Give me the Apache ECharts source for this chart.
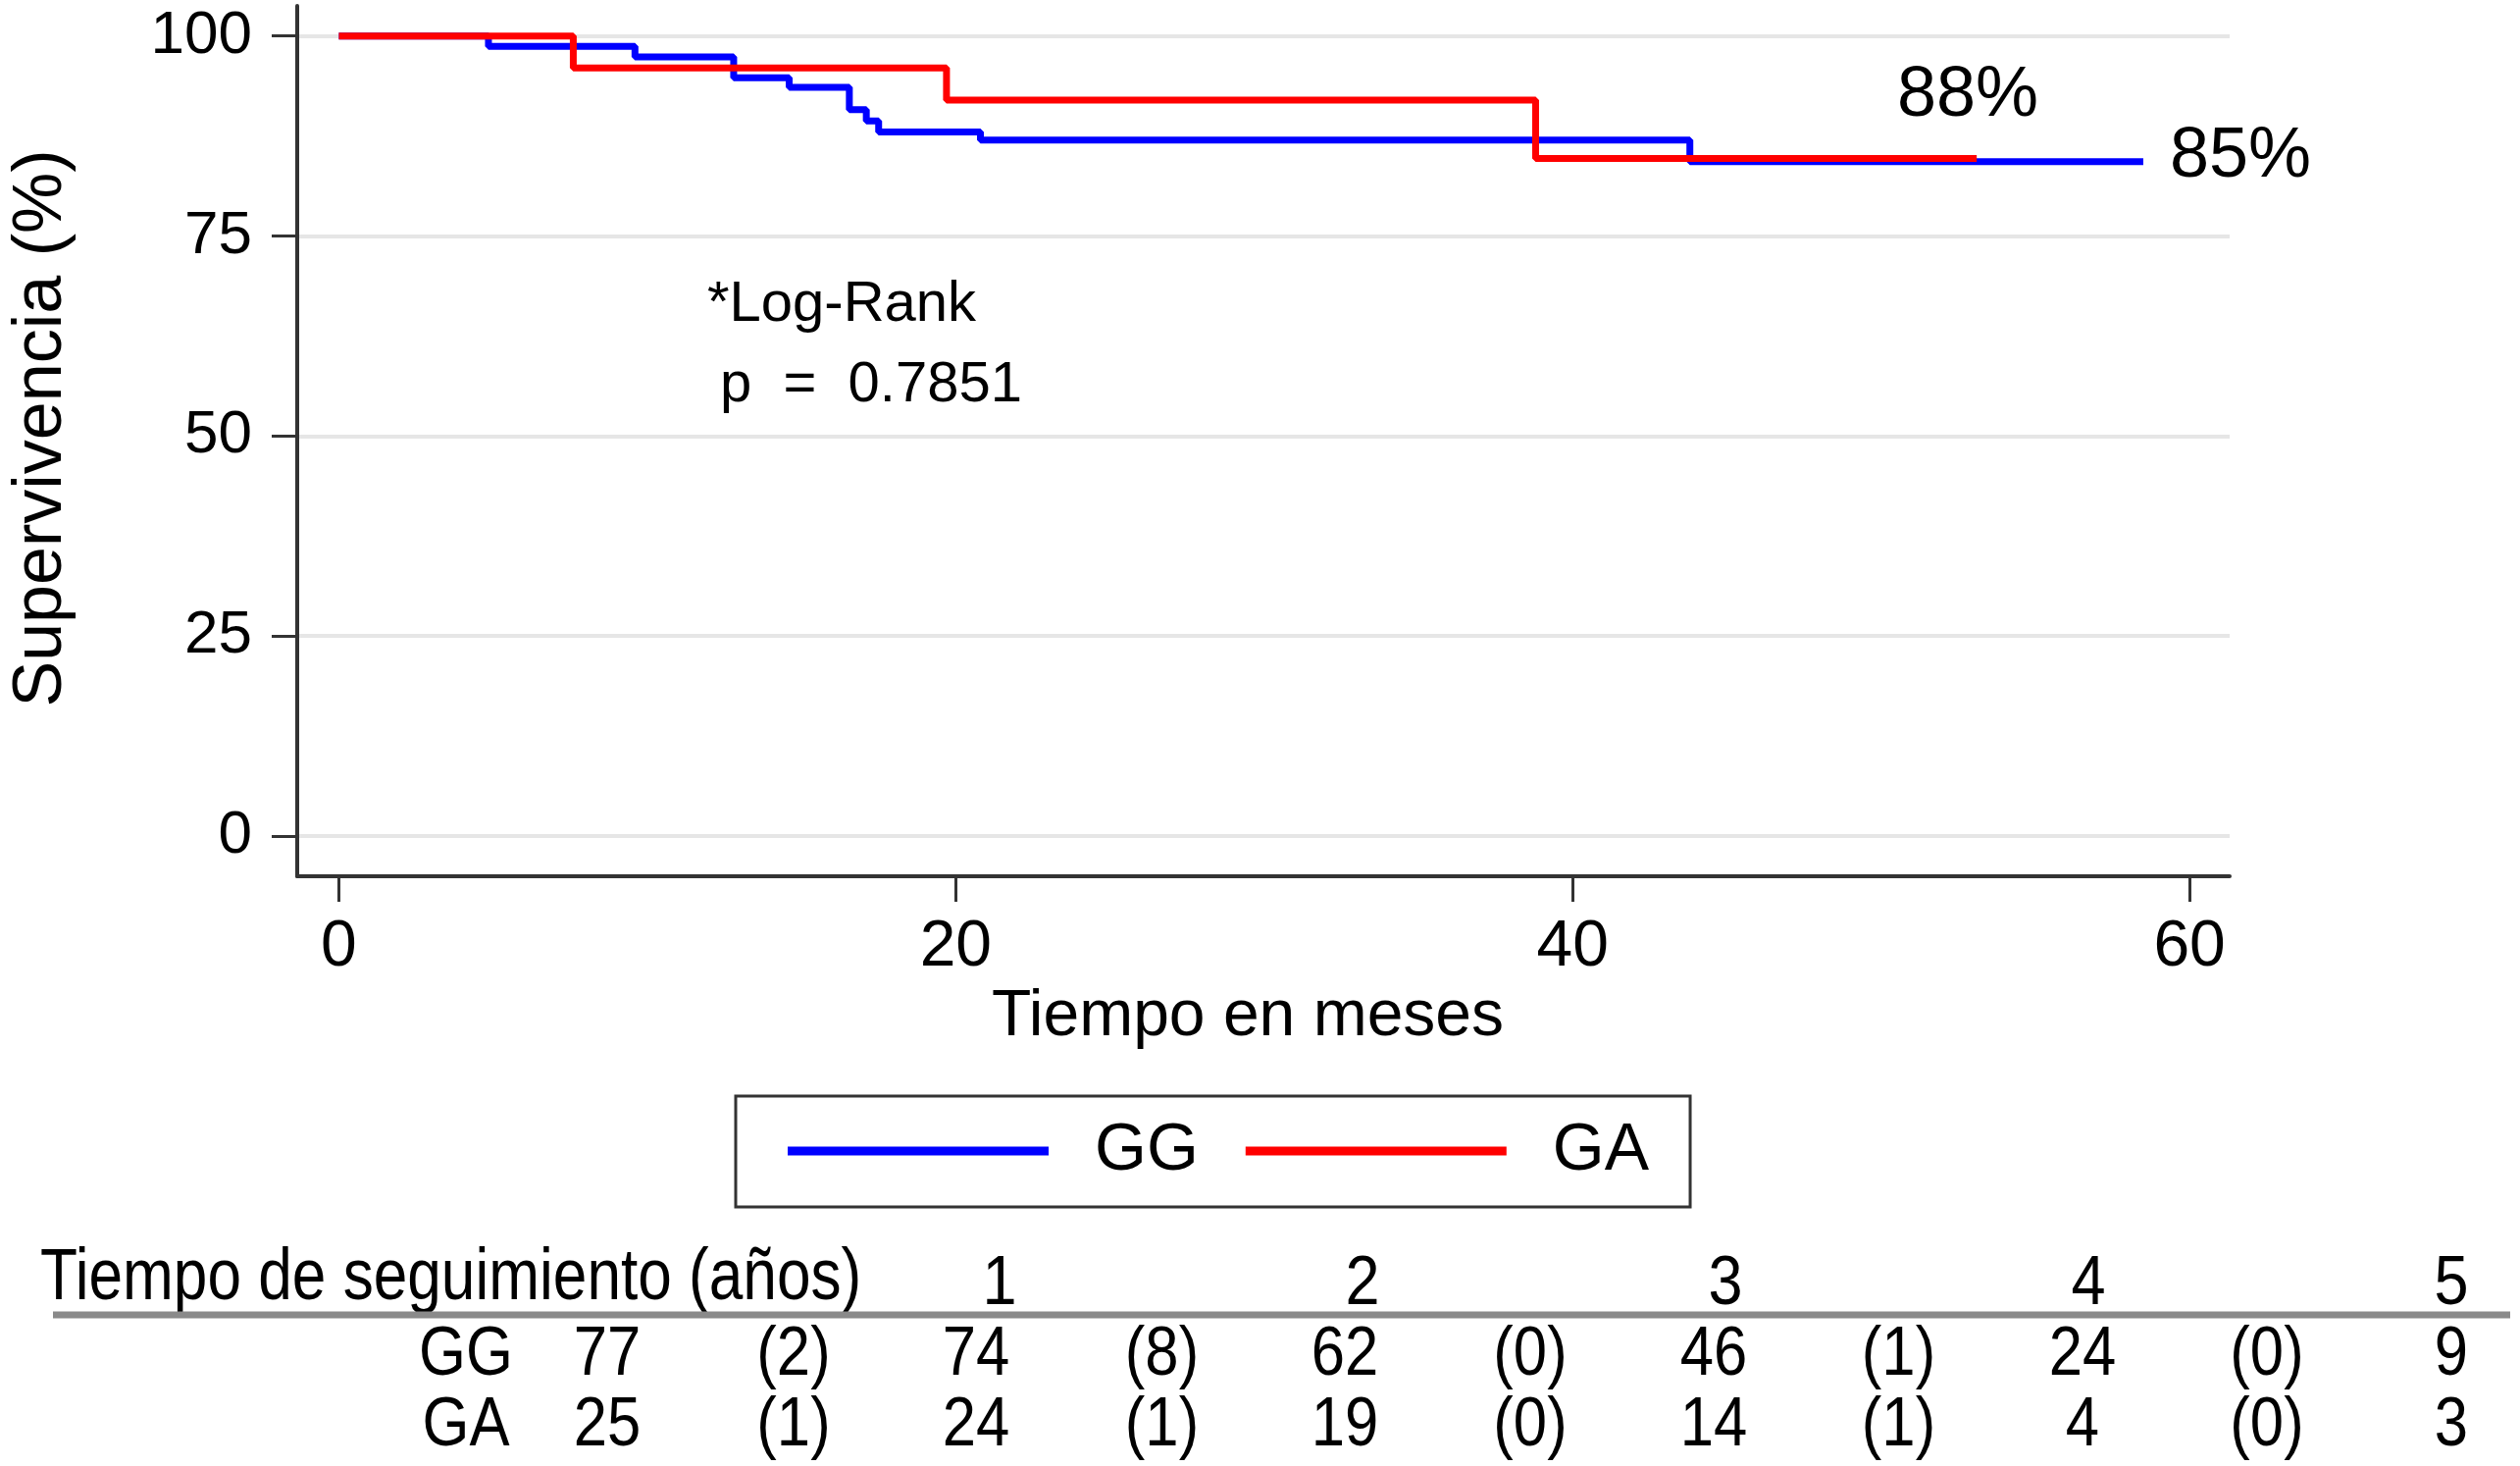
<!DOCTYPE html>
<html><head><meta charset="utf-8">
<script src="https://cdn.jsdelivr.net/npm/echarts@6/dist/echarts.min.js"></script>
<style>html,body{margin:0;padding:0;background:#fff}#c{width:2569px;height:1494px}</style>
</head><body><div id="c"></div>
<script>
// ---- data ----
const ggTime = [0, 4.85, 9.6, 12.8, 14.6, 16.55, 17.1, 17.5, 20.8, 43.8, 58.5];
const ggSurv = [100, 98.7, 97.4, 94.8, 93.6, 90.8, 89.4, 88.0, 87.0, 84.3, 84.3];
const gaTime = [0, 7.6, 19.7, 38.8, 53.1];
const gaSurv = [100, 96.0, 92.0, 84.7, 84.7];
const xTicks = [0, 20, 40, 60];
const yTicks = [0, 25, 50, 75, 100];
const groups = ['GG', 'GA'];
const years = ['1', '2', '3', '4', '5'];
const ggAtRisk = [77, 74, 62, 46, 24, 9];
const ggEvents = [2, 8, 0, 1, 0];
const gaAtRisk = [25, 24, 19, 14, 4, 3];
const gaEvents = [1, 1, 0, 1, 0];
const endLabels = ['88%', '85%'];
const tableTitle = 'Tiempo de seguimiento (años)';
const testLines = ['*Log-Rank', 'p  =  0.7851'];

const REG = "'Liberation Sans', Arial, sans-serif";

const chart = echarts.init(document.getElementById('c'));
const toPts = (t, s) => t.map((v, i) => [v, s[i]]);

const g = [];
function txt(x, y, text, size, align, sx) {
  g.push({type: 'text', x: x, y: y, scaleX: sx || 1, silent: true,
    style: {text: text, fontSize: size, fontFamily: REG, fill: '#000',
      align: align || 'center', verticalAlign: 'middle'}});
}
// in-plot annotations
txt(721, 311, testLines[0], 58, 'left');
txt(734, 393, testLines[1], 58, 'left');
txt(2006, 98, endLabels[0], 72, 'center');
txt(2212, 160, endLabels[1], 72, 'left');
// number-at-risk table
txt(41, 1304, tableTitle, 74, 'left', 0.84);
years.forEach((y, k) => txt(1019 + k * 370, 1310, y, 70, 'center', 0.9));
g.push({type: 'line', silent: true, shape: {x1: 54, y1: 1340, x2: 2559, y2: 1340},
  style: {stroke: '#8a8a8a', lineWidth: 7}});
const rows = [[groups[0], ggAtRisk, ggEvents, 1382], [groups[1], gaAtRisk, gaEvents, 1454]];
rows.forEach(r => {
  txt(475, r[3], r[0], 70, 'center', 0.88);
  r[1].forEach((v, k) => txt(619 + k * 376, r[3], String(v), 70, 'center', 0.88));
  r[2].forEach((v, k) => txt(809 + k * 375.5, r[3], '(' + v + ')', 70, 'center', 0.88));
});

chart.setOption({
  animation: false,
  backgroundColor: '#fff',
  grid: {left: 295, right: 296, top: 6, bottom: 601, containLabel: false},
  xAxis: {
    type: 'value', min: -1.35, max: 61.3,
    name: 'Tiempo en meses', nameLocation: 'middle', nameGap: 90,
    nameTextStyle: {fontSize: 66, fontFamily: REG, color: '#000', verticalAlign: 'top', padding: [0, 32, 0, 0]},
    axisLine: {onZero: false, lineStyle: {color: '#333', width: 4}},
    axisTick: {length: 26, customValues: xTicks, lineStyle: {color: '#333', width: 3}},
    axisLabel: {customValues: xTicks, fontSize: 66, fontFamily: REG, color: '#000', margin: 40},
    splitLine: {show: false}
  },
  yAxis: {
    type: 'value', min: -5.03, max: 103.77,
    name: 'Supervivencia (%)', nameLocation: 'middle', nameGap: 225,
    nameTextStyle: {fontSize: 70, fontFamily: REG, color: '#000', padding: [0, 0, 0, 26]},
    axisLine: {onZero: false, lineStyle: {color: '#333', width: 4}},
    axisTick: {length: 26, customValues: yTicks, lineStyle: {color: '#333', width: 3}},
    axisLabel: {customValues: yTicks, fontSize: 62, fontFamily: REG, color: '#000', margin: 46},
    splitLine: {show: true, lineStyle: {color: '#e6e6e6', width: 4}}
  },
  legend: {
    data: groups, left: 750, top: 1117, orient: 'horizontal',
    icon: 'rect', itemWidth: 266, itemHeight: 9, itemGap: 48,
    padding: [22, 42, 23, 53],
    borderColor: '#333', borderWidth: 3,
    textStyle: {fontSize: 68, fontFamily: REG, color: '#000', padding: [0, 0, 0, 42]}
  },
  series: [
    {name: groups[0], type: 'line', step: 'end', symbol: 'none', data: toPts(ggTime, ggSurv),
      color: '#0000ff', lineStyle: {color: '#0000ff', width: 7}, z: 2},
    {name: groups[1], type: 'line', step: 'end', symbol: 'none', data: toPts(gaTime, gaSurv),
      color: '#ff0000', lineStyle: {color: '#ff0000', width: 7}, z: 3}
  ],
  graphic: g
});
</script></body></html>
